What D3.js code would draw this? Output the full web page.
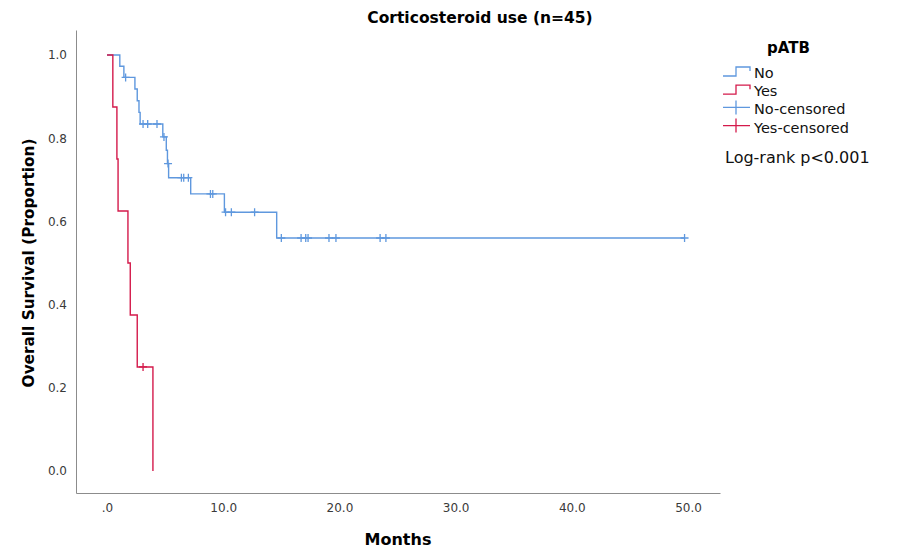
<!DOCTYPE html>
<html>
<head>
<meta charset="utf-8">
<script src="https://cdn.jsdelivr.net/npm/d3@7"></script>
<style>
  body { margin: 0; background: #fff; }
  text { font-family: "DejaVu Sans", sans-serif; }
</style>
</head>
<body>
<div id="container"></div>
<script>
/* CONSTANTS AND GLOBALS */
const width = 899,
  height = 553;

/* DATA */
// Kaplan-Meier step points: time in months, survival proportion
const noTimes = [0, 1.1, 1.45, 2.4, 2.6, 2.75, 2.85, 4.8, 5.1, 5.2, 5.3, 7.2, 10.1, 14.6, 49.7];
const noSurv = [1, 0.973, 0.946, 0.918, 0.890, 0.862, 0.834, 0.803, 0.771, 0.739, 0.705, 0.666, 0.622, 0.560, 0.560];
const noCensored = [1.6, 3.1, 3.5, 4.3, 4.9, 5.25, 6.4, 6.6, 7.0, 8.9, 9.1, 10.2, 10.7, 12.7,
  15.0, 16.7, 17.1, 17.3, 19.1, 19.7, 23.5, 24.0, 49.7];

const yesTimes = [0, 0.5, 0.85, 0.95, 1.8, 2.0, 2.6, 3.95];
const yesSurv = [1, 0.875, 0.75, 0.625, 0.5, 0.375, 0.25, 0];
const yesCensored = [3.1];

const xTicks = [0, 10, 20, 30, 40, 50];
const yTicks = [0, 0.2, 0.4, 0.6, 0.8, 1.0];
const groups = ["No", "Yes"];
const legendLabels = ["No", "Yes", "No-censored", "Yes-censored"];
const colors = { No: "#5f98de", Yes: "#d41a4b" };

const svg = d3.select("#container")
  .append("svg")
  .attr("width", width)
  .attr("height", height);

/* SCALES */
const xScale = d3.scaleLinear()
  .domain([-2.67, 52.75])
  .range([76, 720]);

const yScale = d3.scaleLinear()
  .domain([-0.053, 1.06])
  .range([493, 30]);

/* AXES */
svg.append("g")
  .attr("class", "x-axis")
  .attr("transform", `translate(0, ${yScale.range()[0]})`)
  .call(d3.axisBottom(xScale).tickValues(xTicks).tickSize(0).tickPadding(10)
    .tickFormat(d => d === 0 ? ".0" : d3.format(".1f")(d)))
  .call(g => g.select(".domain").attr("stroke", "#8c8c8c"))
  .selectAll("text")
  .style("font-size", "12px")
  .attr("fill", "#3a3a3a");

svg.append("g")
  .attr("class", "y-axis")
  .attr("transform", `translate(${xScale.range()[0]}, 0)`)
  .call(d3.axisLeft(yScale).tickValues(yTicks).tickSize(0).tickPadding(9)
    .tickFormat(d3.format(".1f")))
  .call(g => g.select(".domain").attr("stroke", "#8c8c8c"))
  .selectAll("text")
  .style("font-size", "12px")
  .attr("fill", "#3a3a3a");

/* CURVES */
const line = d3.line()
  .x(d => xScale(d[0]))
  .y(d => yScale(d[1]))
  .curve(d3.curveStepAfter);

const series = {
  No: { pts: d3.zip(noTimes, noSurv), cens: noCensored },
  Yes: { pts: d3.zip(yesTimes, yesSurv), cens: yesCensored }
};

// level of the curve at a given time
function levelAt(pts, t) {
  const i = d3.bisectRight(pts.map(p => p[0]), t) - 1;
  return pts[Math.max(0, i)][1];
}

groups.forEach(g => {
  const s = series[g];
  svg.append("path")
    .datum(s.pts)
    .attr("fill", "none")
    .attr("stroke", colors[g])
    .attr("stroke-width", 1.4)
    .attr("d", line);

  svg.selectAll(".cens-" + g)
    .data(s.cens)
    .join("path")
    .attr("class", "cens-" + g)
    .attr("fill", "none")
    .attr("stroke", colors[g])
    .attr("stroke-width", 1.3)
    .attr("d", t => {
      const x = xScale(t), y = yScale(levelAt(s.pts, t));
      return `M${x - 4},${y}H${x + 4}M${x},${y - 4}V${y + 4}`;
    });
});

/* TITLES */
svg.append("text")
  .attr("x", 480)
  .attr("y", 23)
  .attr("text-anchor", "middle")
  .style("font-size", "15.5px")
  .style("font-weight", "bold")
  .text("Corticosteroid use (n=45)");

svg.append("text")
  .attr("x", 398)
  .attr("y", 545)
  .attr("text-anchor", "middle")
  .style("font-size", "16px")
  .style("font-weight", "bold")
  .text("Months");

svg.append("text")
  .attr("transform", "translate(34, 263) rotate(-90)")
  .attr("text-anchor", "middle")
  .style("font-size", "15.3px")
  .style("font-weight", "bold")
  .text("Overall Survival (Proportion)");

/* LEGEND */
const legend = svg.append("g").attr("class", "legend");

legend.append("text")
  .attr("x", 767)
  .attr("y", 53)
  .style("font-size", "15px")
  .style("font-weight", "bold")
  .text("pATB");

legendLabels.forEach((lab, i) => {
  const yb = 78 + i * 18.2;
  const col = colors[lab.startsWith("No") ? "No" : "Yes"];
  if (i < 2) {
    legend.append("path")
      .attr("fill", "none")
      .attr("stroke", col)
      .attr("stroke-width", 1.3)
      .attr("d", `M723,${yb - 2}H736V${yb - 11}H750V${yb - 7}`);
  } else {
    legend.append("path")
      .attr("fill", "none")
      .attr("stroke", col)
      .attr("stroke-width", 1.3)
      .attr("d", `M723,${yb - 7}H750M736,${yb - 14}V${yb}`);
  }
  legend.append("text")
    .attr("x", 754)
    .attr("y", yb)
    .style("font-size", "14.5px")
    .attr("fill", "#111")
    .text(lab);
});

svg.append("text")
  .attr("x", 725)
  .attr("y", 163)
  .style("font-size", "16px")
  .attr("fill", "#111")
  .text("Log-rank p<0.001");
</script>
</body>
</html>
